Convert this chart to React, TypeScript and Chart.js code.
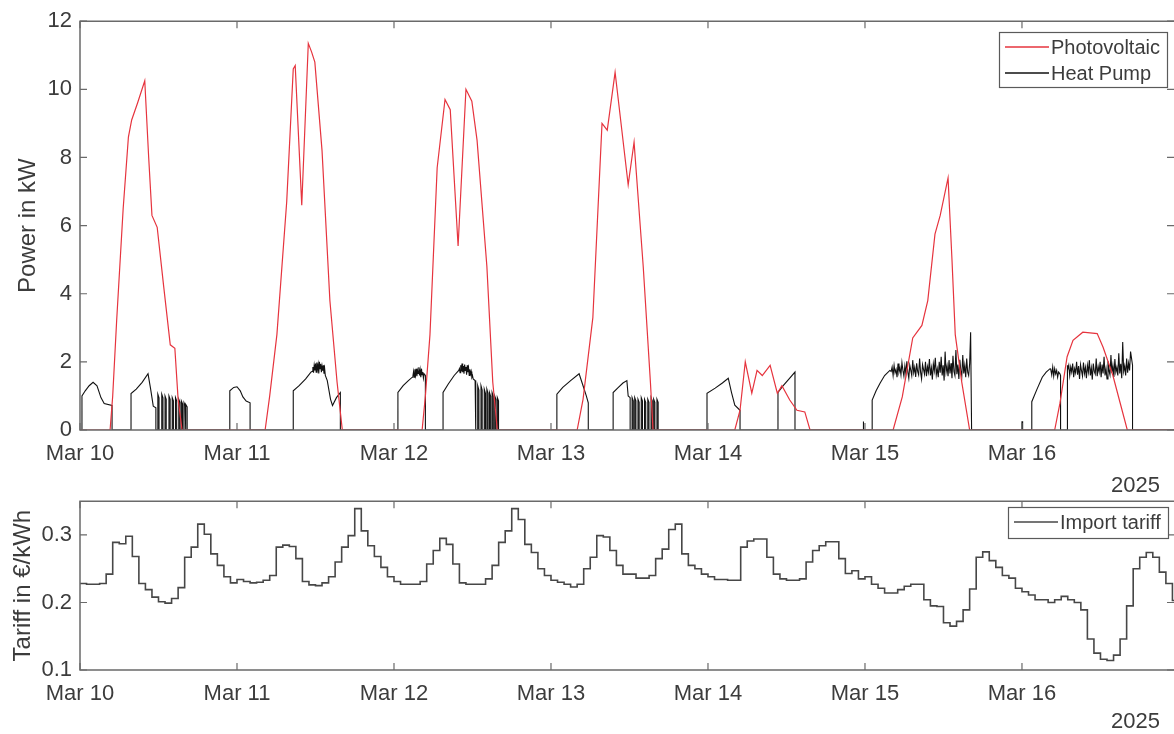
import React, { useEffect, useRef } from 'react';
import { Chart, registerables } from 'chart.js';

Chart.register(...registerables);

// ---------- DATA ----------
const DAY_LABELS = ['Mar 10', 'Mar 11', 'Mar 12', 'Mar 13', 'Mar 14', 'Mar 15', 'Mar 16'];
const DAY_TICK_HOURS = [0, 24, 48, 72, 96, 120, 144];
const YEAR_LABEL = '2025';
const X_MAX_HOURS = 167.24;
const POWER_TICKS = [0, 2, 4, 6, 8, 10, 12];
const TARIFF_TICKS = [0.1, 0.2, 0.3];

// Photovoltaic power [hour since Mar 10 00:00, kW]
const pvDay10: [number, number][] = [[0, 0], [4.6, 0], [5.0, 1.0], [5.6, 3.2], [6.6, 6.5], [7.4, 8.6], [7.9, 9.1], [8.8, 9.6], [9.9, 10.25], [10.5, 8.0], [11.0, 6.3], [11.8, 5.95], [12.8, 4.2], [13.8, 2.5], [14.5, 2.4], [15.0, 0.9], [15.6, 0]];
const pvDay11: [number, number][] = [[28.3, 0], [29.0, 1.0], [30.1, 2.8], [31.6, 6.7], [32.6, 10.6], [32.9, 10.7], [33.9, 6.6], [34.9, 11.35], [35.4, 11.1], [35.9, 10.8], [37.0, 8.2], [38.2, 3.8], [39.3, 1.4], [40.1, 0]];
const pvDay12: [number, number][] = [[52.3, 0], [52.8, 1.0], [53.5, 2.8], [54.6, 7.7], [55.8, 9.7], [56.6, 9.4], [57.8, 5.4], [59.0, 10.0], [59.9, 9.65], [60.7, 8.5], [62.2, 4.8], [63.1, 1.4], [63.8, 0]];
const pvDay13: [number, number][] = [[76.0, 0], [76.9, 0.9], [78.4, 3.3], [79.8, 9.0], [80.6, 8.8], [81.8, 10.5], [83.8, 7.2], [84.7, 8.45], [86.1, 4.8], [87.2, 1.4], [87.6, 0]];
const pvDay14: [number, number][] = [[100.1, 0], [100.9, 0.58], [101.7, 2.0], [102.7, 1.08], [103.5, 1.75], [104.3, 1.6], [105.5, 1.9], [106.6, 1.08], [107.3, 1.3], [108.5, 0.88], [109.6, 0.58], [110.8, 0.53], [111.6, 0]];
const pvDay15: [number, number][] = [[124.3, 0], [125.7, 0.97], [127.3, 2.7], [128.7, 3.07], [129.6, 3.8], [130.7, 5.75], [131.5, 6.3], [132.7, 7.4], [133.3, 5.0], [133.8, 2.8], [134.8, 1.4], [136.0, 0]];
const pvDay16: [number, number][] = [[149.0, 0], [149.8, 0.78], [150.9, 2.15], [151.8, 2.63], [153.3, 2.87], [155.5, 2.83], [156.4, 2.43], [157.9, 1.6], [159.0, 0.8], [160.1, 0], [167.24, 0]];

// Heat pump power: smooth parts [hour, kW]
const hpShape: [number, number][] = [
  [0, 0], [0.3, 0], [0.3, 1.0], [0.8, 1.15], [1.4, 1.3], [2.0, 1.4], [2.6, 1.3], [3.2, 0.95], [3.7, 0.78], [4.9, 0.72], [4.9, 0],
  [7.8, 0], [7.8, 1.07], [8.6, 1.2], [9.5, 1.4], [10.4, 1.65], [10.8, 1.2], [11.2, 0.7], [11.6, 0.65], [11.6, 0],
  [22.9, 0], [22.9, 1.15], [23.5, 1.25], [24.0, 1.27], [24.5, 1.15], [24.9, 0.97], [25.4, 0.85], [26.0, 0.8], [26.0, 0],
  [32.6, 0], [32.6, 1.15], [33.5, 1.3], [34.5, 1.5], [35.3, 1.7], [37.8, 1.45], [38.3, 0.9], [38.6, 0.72], [39.2, 0.95], [39.8, 1.1], [39.8, 0],
  [48.6, 0], [48.6, 1.1], [49.4, 1.3], [50.2, 1.45], [50.8, 1.55], [52.8, 1.6], [52.8, 0],
  [55.5, 0], [55.5, 1.1], [56.3, 1.35], [57.2, 1.6], [57.9, 1.75], [60.4, 1.45], [60.5, 0],
  [72.9, 0], [72.9, 1.05], [73.8, 1.25], [75.0, 1.45], [76.3, 1.65], [76.9, 1.3], [77.4, 1.0], [77.7, 0.8], [77.7, 0],
  [81.5, 0], [81.5, 1.1], [82.3, 1.25], [83.0, 1.38], [83.6, 1.45], [83.8, 1.0], [84.1, 0.95], [84.1, 0],
  [95.85, 0], [95.85, 1.08], [97.1, 1.23], [98.2, 1.38], [99.1, 1.52], [99.6, 1.1], [100.1, 0.73], [100.9, 0.58], [100.9, 0],
  [106.7, 0], [106.7, 1.1], [107.5, 1.3], [108.4, 1.5], [109.3, 1.7], [109.3, 0],
  [119.7, 0], [119.7, 0.25], [119.8, 0.25], [119.8, 0],
  [121.1, 0], [121.1, 0.88], [121.7, 1.15], [122.3, 1.37], [123.0, 1.6], [123.8, 1.75], [136.15, 2.87], [136.3, 0],
  [144.0, 0], [144.0, 0.24], [144.1, 0.24], [144.1, 0],
  [145.5, 0], [145.5, 0.83], [146.3, 1.2], [147.1, 1.55], [147.7, 1.7], [148.3, 1.8], [149.8, 1.65], [149.9, 1.6], [149.9, 0],
  [150.9, 0], [150.9, 1.9], [160.9, 1.9], [160.9, 0], [167.24, 0],
];

// Heat pump on/off pulses [start hour, kW]
const hpPulsesMar10: [number, number][] = [[11.9, 1.05], [12.5, 1.05], [13.0, 1.0], [13.6, 1.0], [14.1, 0.95], [14.6, 0.95], [15.1, 0.9], [15.5, 0.85], [15.9, 0.8], [16.2, 0.75]];
const hpPulsesMar12: [number, number][] = [[60.8, 1.3], [61.3, 1.3], [61.8, 1.2], [62.2, 1.2], [62.6, 1.1], [63.0, 1.1], [63.4, 1.0], [63.8, 0.95]];
const hpPulsesMar13: [number, number][] = [[84.4, 0.95], [84.8, 0.95], [85.3, 0.9], [85.8, 0.95], [86.3, 0.9], [86.8, 0.9], [87.3, 0.95], [87.7, 0.9], [88.2, 0.9]];

// Heat pump modulating bands (kW), sampled from a start hour at a fixed interval
const hpBandMar11 = { start: 35.5, step: 0.1, kw: [1.72, 1.85, 1.68, 1.9, 1.75, 1.95, 1.7, 1.98, 1.78, 1.92, 1.66, 2.0, 1.8, 1.94, 1.7, 1.88, 1.74, 1.9, 1.65, 1.8, 1.6] };
const hpBandMar12a = { start: 50.9, step: 0.1, kw: [1.6, 1.72, 1.55, 1.78, 1.62, 1.8, 1.58, 1.75, 1.66, 1.84, 1.6, 1.76, 1.55, 1.8, 1.62, 1.7, 1.52, 1.65] };
const hpBandMar12b = { start: 58.0, step: 0.1, kw: [1.8, 1.68, 1.9, 1.72, 1.95, 1.7, 1.88, 1.65, 1.92, 1.75, 1.85, 1.62, 1.9, 1.7, 1.82, 1.6, 1.78, 1.64, 1.72, 1.55, 1.6, 1.5] };
const hpBandMar15 = { start: 124.0, step: 0.15, kw: [
  1.72, 1.85, 1.6, 1.9, 1.68, 1.78, 1.55, 1.95, 1.7, 1.82,
  1.62, 1.98, 1.75, 1.58, 1.88, 1.66, 2.02, 1.7, 1.52, 1.9,
  1.76, 1.6, 2.05, 1.68, 1.84, 1.56, 1.96, 1.72, 1.62, 2.1,
  1.7, 1.5, 1.92, 1.78, 1.64, 2.0, 1.58, 1.86, 1.7, 2.08,
  1.6, 1.82, 1.48, 1.94, 1.74, 2.12, 1.62, 1.8, 1.55, 2.0,
  1.68, 2.15, 1.6, 1.9, 1.45, 2.3, 1.7, 1.88, 1.58, 2.05,
  1.66, 1.96, 1.52, 2.18, 1.72, 1.6, 2.35, 1.64, 1.92, 1.5,
  2.06, 1.74, 1.58, 2.2, 1.66, 1.9, 1.55, 2.1, 1.7, 1.6, 1.95] };
const hpBandMar16a = { start: 148.4, step: 0.15, kw: [1.78, 1.62, 1.85, 1.58, 1.8, 1.65, 1.75, 1.55, 1.7] };
const hpBandMar16b = { start: 151.0, step: 0.15, kw: [
  1.75, 1.9, 1.6, 1.85, 1.7, 1.95, 1.55, 1.8, 1.68, 2.0,
  1.62, 1.88, 1.5, 1.92, 1.74, 1.58, 1.98, 1.66, 1.84, 1.52,
  1.9, 1.7, 2.05, 1.6, 1.82, 1.48, 1.95, 1.72, 1.64, 2.1,
  1.58, 1.86, 1.7, 2.0, 1.55, 1.92, 1.66, 2.15, 1.6, 1.8,
  1.5, 2.02, 1.74, 1.62, 2.2, 1.68, 1.9, 1.56, 2.08, 1.7,
  1.84, 1.6, 2.25, 1.66, 1.94, 1.52, 2.58, 1.72, 1.88, 1.6,
  2.1, 1.68, 1.96, 1.75, 2.3] };

// Import tariff (€/kWh), hourly steps
const tariffMar10 = [0.228, 0.227, 0.227, 0.228, 0.242, 0.289, 0.287, 0.298, 0.268, 0.228, 0.219, 0.208, 0.201, 0.199, 0.206, 0.222, 0.267, 0.282, 0.316, 0.301, 0.272, 0.255, 0.238, 0.229];
const tariffMar11 = [0.234, 0.231, 0.229, 0.230, 0.233, 0.240, 0.282, 0.285, 0.283, 0.265, 0.231, 0.226, 0.225, 0.229, 0.238, 0.260, 0.282, 0.299, 0.339, 0.306, 0.284, 0.268, 0.252, 0.238];
const tariffMar12 = [0.231, 0.227, 0.227, 0.227, 0.231, 0.257, 0.277, 0.295, 0.286, 0.257, 0.229, 0.227, 0.227, 0.227, 0.235, 0.255, 0.289, 0.306, 0.339, 0.323, 0.286, 0.274, 0.250, 0.240];
const tariffMar13 = [0.233, 0.230, 0.227, 0.223, 0.227, 0.250, 0.267, 0.299, 0.297, 0.277, 0.255, 0.242, 0.242, 0.236, 0.236, 0.240, 0.265, 0.279, 0.308, 0.316, 0.272, 0.255, 0.250, 0.242];
const tariffMar14 = [0.238, 0.234, 0.234, 0.233, 0.233, 0.282, 0.291, 0.294, 0.294, 0.267, 0.242, 0.235, 0.233, 0.233, 0.235, 0.260, 0.277, 0.284, 0.290, 0.290, 0.265, 0.243, 0.247, 0.235];
const tariffMar15 = [0.238, 0.227, 0.221, 0.214, 0.214, 0.219, 0.224, 0.227, 0.227, 0.204, 0.195, 0.194, 0.170, 0.165, 0.172, 0.189, 0.220, 0.267, 0.275, 0.262, 0.252, 0.240, 0.236, 0.221];
const tariffMar16 = [0.216, 0.211, 0.204, 0.204, 0.200, 0.204, 0.209, 0.204, 0.200, 0.189, 0.146, 0.125, 0.116, 0.114, 0.122, 0.146, 0.195, 0.250, 0.267, 0.274, 0.267, 0.245, 0.228, 0.203];

// ---------- STYLE ----------
const FONT_FAMILY = '"Liberation Sans", Arial, Helvetica, sans-serif';
const TEXT_COLOR = '#3c3c3c';
const AXIS_COLOR = '#6a6a6a';
const PV_COLOR = '#e6343e';
const HP_COLOR = '#111111';
const TARIFF_COLOR = '#474747';
const TICK_LEN = 7;
const PULSE_WIDTH = 0.18;
const TICK_FONT = 22;
const TITLE_FONT = 24;
const LEGEND_FONT = 20;

Chart.defaults.font.family = FONT_FAMILY;
Chart.defaults.color = TEXT_COLOR;

type Pt = { x: number; y: number };

function buildPV(): Pt[] {
  return [pvDay10, pvDay11, pvDay12, pvDay13, pvDay14, pvDay15, pvDay16].flat().map(([x, y]) => ({ x, y }));
}

function buildHP(): Pt[] {
  const pts: Pt[] = hpShape.map(([x, y]) => ({ x, y }));
  [hpPulsesMar10, hpPulsesMar12, hpPulsesMar13].forEach((list) => {
    list.forEach(([t, h]) => {
      pts.push({ x: t, y: 0 }, { x: t, y: h }, { x: t + PULSE_WIDTH, y: h * 0.9 }, { x: t + PULSE_WIDTH, y: 0 });
    });
  });
  [hpBandMar11, hpBandMar12a, hpBandMar12b, hpBandMar15, hpBandMar16a, hpBandMar16b].forEach((b) => {
    b.kw.forEach((v, i) => pts.push({ x: b.start + i * b.step, y: v }));
  });
  return pts
    .map((p, i) => ({ p, i }))
    .sort((a, b) => (a.p.x - b.p.x) || (a.i - b.i))
    .map((o) => o.p);
}

function buildTariff(): Pt[] {
  const all = [tariffMar10, tariffMar11, tariffMar12, tariffMar13, tariffMar14, tariffMar15, tariffMar16].flat();
  const pts = all.map((v, i) => ({ x: i, y: v }));
  pts.push({ x: all.length, y: all[all.length - 1] });
  return pts;
}

type LegendItem = { label: string; color: string };
type FrameCfg = {
  id: string;
  yearY: number;
  legend: { x0: number; y0: number; x1: number; y1: number; items: LegendItem[]; rowY: number[] };
};

function makeFrame(cfg: FrameCfg) {
  return {
    id: cfg.id,
    afterDraw(chart: any) {
      const ctx: CanvasRenderingContext2D = chart.ctx;
      const { left, right, top, bottom } = chart.chartArea;
      const xs = chart.scales.x;
      const ys = chart.scales.y;
      ctx.save();
      ctx.strokeStyle = AXIS_COLOR;
      ctx.lineWidth = 1.5;
      ctx.beginPath();
      ctx.moveTo(right + 2, top);
      ctx.lineTo(left, top);
      ctx.lineTo(left, bottom);
      ctx.lineTo(right + 2, bottom);
      ctx.stroke();
      ctx.lineWidth = 1.2;
      ctx.beginPath();
      xs.ticks.forEach((t: any) => {
        const px = xs.getPixelForValue(t.value);
        ctx.moveTo(px, bottom);
        ctx.lineTo(px, bottom - TICK_LEN);
        ctx.moveTo(px, top);
        ctx.lineTo(px, top + TICK_LEN);
      });
      ys.ticks.forEach((t: any) => {
        const py = ys.getPixelForValue(t.value);
        ctx.moveTo(left, py);
        ctx.lineTo(left + TICK_LEN, py);
        ctx.moveTo(right, py);
        ctx.lineTo(right - TICK_LEN, py);
      });
      ctx.stroke();

      // year label
      ctx.fillStyle = TEXT_COLOR;
      ctx.font = `${TICK_FONT}px ${FONT_FAMILY}`;
      ctx.textAlign = 'right';
      ctx.textBaseline = 'middle';
      ctx.fillText(YEAR_LABEL, 1160, cfg.yearY);

      // legend
      const L = cfg.legend;
      ctx.fillStyle = '#ffffff';
      ctx.fillRect(L.x0, L.y0, L.x1 - L.x0, L.y1 - L.y0);
      ctx.strokeStyle = '#5a5a5a';
      ctx.lineWidth = 1.2;
      ctx.strokeRect(L.x0 + 0.5, L.y0 + 0.5, L.x1 - L.x0, L.y1 - L.y0);
      L.items.forEach((it, i) => {
        const cy = L.rowY[i];
        ctx.strokeStyle = it.color;
        ctx.lineWidth = 1.4;
        ctx.beginPath();
        ctx.moveTo(L.x0 + 6, cy);
        ctx.lineTo(L.x0 + 50, cy);
        ctx.stroke();
        ctx.fillStyle = TEXT_COLOR;
        ctx.font = `${LEGEND_FONT}px ${FONT_FAMILY}`;
        ctx.textAlign = 'left';
        ctx.textBaseline = 'middle';
        ctx.fillText(it.label, L.x0 + 52, cy + 1);
      });
      ctx.restore();
    },
  };
}

function xScale(height: number) {
  return {
    type: 'linear',
    min: 0,
    max: X_MAX_HOURS,
    afterBuildTicks: (s: any) => {
      s.ticks = DAY_TICK_HOURS.map((v) => ({ value: v }));
    },
    afterFit: (s: any) => {
      s.height = height;
    },
    ticks: {
      autoSkip: false,
      maxRotation: 0,
      padding: 11,
      font: { size: TICK_FONT },
      color: TEXT_COLOR,
      callback: (v: number) => DAY_LABELS[DAY_TICK_HOURS.indexOf(v)] ?? '',
    },
    grid: { display: false, drawTicks: false },
    border: { display: false },
  };
}

function yScale(min: number, max: number, ticks: number[], title: string, titlePad: number, fmt: (v: number) => string) {
  return {
    type: 'linear',
    min,
    max,
    afterBuildTicks: (s: any) => {
      s.ticks = ticks.map((v) => ({ value: v }));
    },
    afterFit: (s: any) => {
      s.width = 80;
    },
    ticks: { padding: 8, font: { size: TICK_FONT }, color: TEXT_COLOR, callback: (v: number) => fmt(v) },
    grid: { display: false, drawTicks: false },
    border: { display: false },
    title: { display: true, text: title, font: { size: TITLE_FONT }, color: TEXT_COLOR, padding: { top: titlePad, bottom: 0 } },
  };
}

export default function App() {
  const topRef = useRef<HTMLCanvasElement>(null);
  const botRef = useRef<HTMLCanvasElement>(null);

  useEffect(() => {
    const top = new Chart(topRef.current as HTMLCanvasElement, {
      type: 'line',
      data: {
        datasets: [
          { label: 'Photovoltaic', data: buildPV(), borderColor: PV_COLOR, borderWidth: 1.2, pointRadius: 0, tension: 0, fill: false },
          { label: 'Heat Pump', data: buildHP(), borderColor: HP_COLOR, borderWidth: 1.1, pointRadius: 0, tension: 0, fill: false },
        ],
      },
      options: {
        animation: false,
        responsive: false,
        maintainAspectRatio: false,
        layout: { padding: { top: 20, left: 0, right: 0, bottom: 0 } },
        plugins: { legend: { display: false }, tooltip: { enabled: false } },
        scales: {
          x: xScale(70) as any,
          y: yScale(0, 12, POWER_TICKS, 'Power in kW', 14, (v) => String(v)) as any,
        },
      },
      plugins: [
        makeFrame({
          id: 'frameTop',
          yearY: 486,
          legend: {
            x0: 999, y0: 32, x1: 1167, y1: 87,
            items: [{ label: 'Photovoltaic', color: PV_COLOR }, { label: 'Heat Pump', color: HP_COLOR }],
            rowY: [47, 73],
          },
        }) as any,
      ],
    });

    const bottom = new Chart(botRef.current as HTMLCanvasElement, {
      type: 'line',
      data: {
        datasets: [
          { label: 'Import tariff', data: buildTariff(), borderColor: TARIFF_COLOR, borderWidth: 1.6, pointRadius: 0, stepped: 'before', fill: false },
        ],
      },
      options: {
        animation: false,
        responsive: false,
        maintainAspectRatio: false,
        layout: { padding: { top: 17, left: 0, right: 0, bottom: 0 } },
        plugins: { legend: { display: false }, tooltip: { enabled: false } },
        scales: {
          x: xScale(64) as any,
          y: yScale(0.1, 0.35, TARIFF_TICKS, 'Tariff in €/kWh', 9, (v) => v.toFixed(1)) as any,
        },
      },
      plugins: [
        makeFrame({
          id: 'frameBottom',
          yearY: 242,
          legend: {
            x0: 1008, y0: 27, x1: 1168, y1: 58,
            items: [{ label: 'Import tariff', color: TARIFF_COLOR }],
            rowY: [42],
          },
        }) as any,
      ],
    });

    return () => {
      top.destroy();
      bottom.destroy();
    };
  }, []);

  return (
    <div style={{ position: 'absolute', left: 0, top: 0, width: 1174, height: 734, background: '#ffffff', overflow: 'hidden' }}>
      <canvas ref={topRef} width={1174} height={500} style={{ position: 'absolute', left: 0, top: 0, width: 1174, height: 500 }} />
      <canvas ref={botRef} width={1174} height={254} style={{ position: 'absolute', left: 0, top: 480, width: 1174, height: 254 }} />
    </div>
  );
}
